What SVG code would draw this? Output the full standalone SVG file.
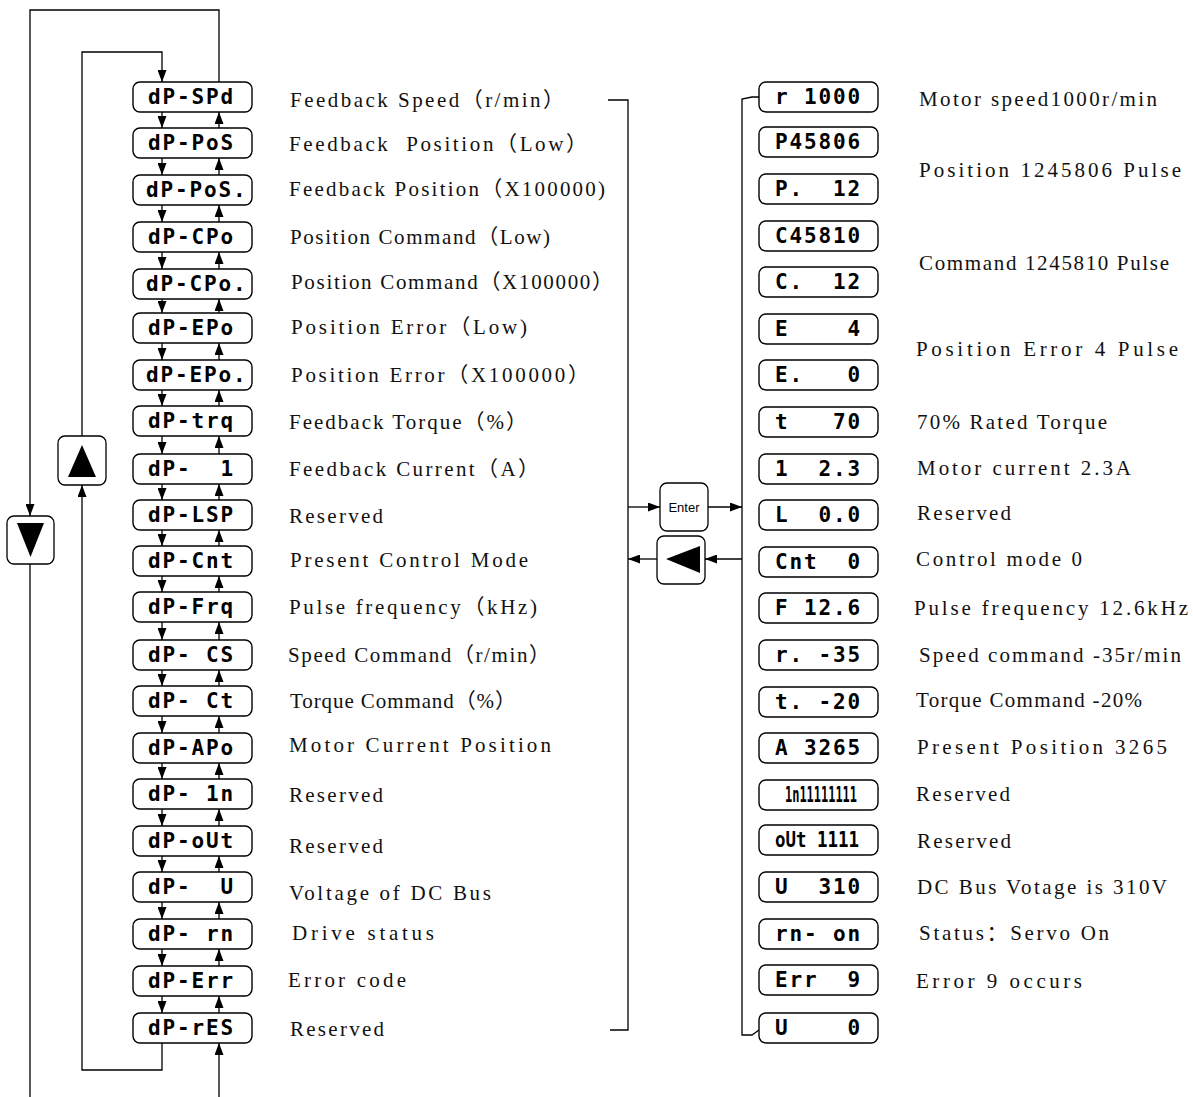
<svg xmlns="http://www.w3.org/2000/svg" width="1193" height="1097" viewBox="0 0 1193 1097" xml:space="preserve">
<style>
.box{fill:#fff;stroke:#000;stroke-width:1.4}
.btn{fill:#fff;stroke:#000;stroke-width:1.3}
.tri{fill:#000}
.seg{font-family:"DejaVu Sans Mono",monospace;font-weight:bold;font-size:21px;letter-spacing:1.86px;white-space:pre;fill:#000}
.segn{font-family:"DejaVu Sans Mono",monospace;font-weight:bold;font-size:21px;letter-spacing:0;white-space:pre;fill:#000}
.desc{font-family:"Liberation Serif","Noto Sans CJK SC",serif;font-size:21px;white-space:pre;fill:#111}
.ent{font-family:"Liberation Sans",Arial,sans-serif;font-size:13px;fill:#000}
.ln{fill:none;stroke:#000;stroke-width:1.3}
</style>
<defs>
<marker id="ah" viewBox="0 0 12 9" markerWidth="12" markerHeight="9" refX="12" refY="4.5" orient="auto" markerUnits="userSpaceOnUse"><path d="M0,0 L12,4.5 L0,9 z" fill="#000"/></marker>
</defs>

<g id="connectors">
<path class="ln" d="M219,82 V10 H30 V516" marker-end="url(#ah)"/>
<path class="ln" d="M30,564 V1097"/>
<path class="ln" d="M82,436 V52 H162 V82" marker-end="url(#ah)"/>
<path class="ln" d="M162,1043 V1070 H82 V485" marker-end="url(#ah)"/>
<path class="ln" d="M219,1097 V1043" marker-end="url(#ah)"/>
<g marker-end="url(#ah)">
<path class="ln" d="M162,112 V128"/><path class="ln" d="M219,128 V112"/>
<path class="ln" d="M162,158 V175"/><path class="ln" d="M219,175 V158"/>
<path class="ln" d="M162,205 V222"/><path class="ln" d="M219,222 V205"/>
<path class="ln" d="M162,252 V269"/><path class="ln" d="M219,269 V252"/>
<path class="ln" d="M162,299 V313"/><path class="ln" d="M219,313 V299"/>
<path class="ln" d="M162,343 V360"/><path class="ln" d="M219,360 V343"/>
<path class="ln" d="M162,390 V406"/><path class="ln" d="M219,406 V390"/>
<path class="ln" d="M162,436 V454"/><path class="ln" d="M219,454 V436"/>
<path class="ln" d="M162,484 V500"/><path class="ln" d="M219,500 V484"/>
<path class="ln" d="M162,530 V546"/><path class="ln" d="M219,546 V530"/>
<path class="ln" d="M162,576 V592"/><path class="ln" d="M219,592 V576"/>
<path class="ln" d="M162,622 V640"/><path class="ln" d="M219,640 V622"/>
<path class="ln" d="M162,670 V686"/><path class="ln" d="M219,686 V670"/>
<path class="ln" d="M162,716 V733"/><path class="ln" d="M219,733 V716"/>
<path class="ln" d="M162,763 V779"/><path class="ln" d="M219,779 V763"/>
<path class="ln" d="M162,809 V826"/><path class="ln" d="M219,826 V809"/>
<path class="ln" d="M162,856 V872"/><path class="ln" d="M219,872 V856"/>
<path class="ln" d="M162,902 V919"/><path class="ln" d="M219,919 V902"/>
<path class="ln" d="M162,949 V966"/><path class="ln" d="M219,966 V949"/>
<path class="ln" d="M162,996 V1013"/><path class="ln" d="M219,1013 V996"/>
</g>
<path class="ln" d="M608,100 H628 V1030 H610"/>
<path class="ln" d="M759,97 H752 L742,99 V1035 H752 L759,1030"/>
<path class="ln" d="M628,507 H660" marker-end="url(#ah)"/>
<path class="ln" d="M708,507 H742" marker-end="url(#ah)"/>
<path class="ln" d="M742,559 H705" marker-end="url(#ah)"/>
<path class="ln" d="M657,559 H628" marker-end="url(#ah)"/>
</g>

<g id="btn-down"><rect class="btn" x="7" y="516" width="47" height="48" rx="7"/><polygon class="tri" points="17,523 44,523 30.5,557"/></g>
<g id="btn-up"><rect class="btn" x="58" y="436" width="48" height="49" rx="7"/><polygon class="tri" points="82,445 96,477 68,477"/></g>
<g id="btn-enter"><rect class="btn" x="660" y="483" width="48" height="48" rx="7"/><text class="ent" x="684" y="512" text-anchor="middle">Enter</text></g>
<g id="btn-left"><rect class="btn" x="657" y="536" width="48" height="48" rx="7"/><polygon class="tri" points="666,559 700,546 700,573"/></g>

<g id="left-nodes">
<g id="n-spd"><rect class="box" x="133" y="82" width="119" height="30" rx="7"/><text class="seg" x="148" y="104">dP-SPd</text></g>
<g id="n-pos"><rect class="box" x="133" y="128" width="119" height="30" rx="7"/><text class="seg" x="148" y="150">dP-PoS</text></g>
<g id="n-posh"><rect class="box" x="133" y="175" width="119" height="30" rx="7"/><text class="seg" x="146" y="197">dP-PoS.</text></g>
<g id="n-cpo"><rect class="box" x="133" y="222" width="119" height="30" rx="7"/><text class="seg" x="148" y="244">dP-CPo</text></g>
<g id="n-cpoh"><rect class="box" x="133" y="269" width="119" height="30" rx="7"/><text class="seg" x="146" y="291">dP-CPo.</text></g>
<g id="n-epo"><rect class="box" x="133" y="313" width="119" height="30" rx="7"/><text class="seg" x="148" y="335">dP-EPo</text></g>
<g id="n-epoh"><rect class="box" x="133" y="360" width="119" height="30" rx="7"/><text class="seg" x="146" y="382">dP-EPo.</text></g>
<g id="n-trq"><rect class="box" x="133" y="406" width="119" height="30" rx="7"/><text class="seg" x="148" y="428">dP-trq</text></g>
<g id="n-i"><rect class="box" x="133" y="454" width="119" height="30" rx="7"/><text class="seg" x="148" y="476">dP-  1</text></g>
<g id="n-lsp"><rect class="box" x="133" y="500" width="119" height="30" rx="7"/><text class="seg" x="148" y="522">dP-LSP</text></g>
<g id="n-cnt"><rect class="box" x="133" y="546" width="119" height="30" rx="7"/><text class="seg" x="148" y="568">dP-Cnt</text></g>
<g id="n-frq"><rect class="box" x="133" y="592" width="119" height="30" rx="7"/><text class="seg" x="148" y="614">dP-Frq</text></g>
<g id="n-cs"><rect class="box" x="133" y="640" width="119" height="30" rx="7"/><text class="seg" x="148" y="662">dP- CS</text></g>
<g id="n-ct"><rect class="box" x="133" y="686" width="119" height="30" rx="7"/><text class="seg" x="148" y="708">dP- Ct</text></g>
<g id="n-apo"><rect class="box" x="133" y="733" width="119" height="30" rx="7"/><text class="seg" x="148" y="755">dP-APo</text></g>
<g id="n-in"><rect class="box" x="133" y="779" width="119" height="30" rx="7"/><text class="seg" x="148" y="801">dP- 1n</text></g>
<g id="n-out"><rect class="box" x="133" y="826" width="119" height="30" rx="7"/><text class="seg" x="148" y="848">dP-oUt</text></g>
<g id="n-u"><rect class="box" x="133" y="872" width="119" height="30" rx="7"/><text class="seg" x="148" y="894">dP-  U</text></g>
<g id="n-rn"><rect class="box" x="133" y="919" width="119" height="30" rx="7"/><text class="seg" x="148" y="941">dP- rn</text></g>
<g id="n-err"><rect class="box" x="133" y="966" width="119" height="30" rx="7"/><text class="seg" x="148" y="988">dP-Err</text></g>
<g id="n-res"><rect class="box" x="133" y="1013" width="119" height="30" rx="7"/><text class="seg" x="148" y="1035">dP-rES</text></g>
</g>

<g id="left-desc">
<text class="desc" x="290" y="107" textLength="274" lengthAdjust="spacing">Feedback Speed（r/min）</text>
<text class="desc" x="289" y="151" textLength="298" lengthAdjust="spacing">Feedback  Position（Low）</text>
<text class="desc" x="289" y="196" textLength="316" lengthAdjust="spacing">Feedback Position（X100000)</text>
<text class="desc" x="290" y="244" textLength="260" lengthAdjust="spacing">Position Command（Low)</text>
<text class="desc" x="291" y="289" textLength="322" lengthAdjust="spacing">Position Command（X100000）</text>
<text class="desc" x="291" y="334" textLength="236" lengthAdjust="spacing">Position Error（Low)</text>
<text class="desc" x="291" y="382" textLength="298" lengthAdjust="spacing">Position Error（X100000）</text>
<text class="desc" x="289" y="429" textLength="238" lengthAdjust="spacing">Feedback Torque（%）</text>
<text class="desc" x="289" y="476" textLength="250" lengthAdjust="spacing">Feedback Current（A）</text>
<text class="desc" x="289" y="523" textLength="94" lengthAdjust="spacing">Reserved</text>
<text class="desc" x="290" y="567" textLength="238" lengthAdjust="spacing">Present Control Mode</text>
<text class="desc" x="289" y="614" textLength="248" lengthAdjust="spacing">Pulse frequency（kHz)</text>
<text class="desc" x="288" y="662" textLength="262" lengthAdjust="spacing">Speed Command（r/min）</text>
<text class="desc" x="290" y="708" textLength="226" lengthAdjust="spacing">Torque Command（%）</text>
<text class="desc" x="289" y="752" textLength="262" lengthAdjust="spacing">Motor Current Position</text>
<text class="desc" x="289" y="802" textLength="94" lengthAdjust="spacing">Reserved</text>
<text class="desc" x="289" y="853" textLength="94" lengthAdjust="spacing">Reserved</text>
<text class="desc" x="289" y="900" textLength="202" lengthAdjust="spacing">Voltage of DC Bus</text>
<text class="desc" x="292" y="940" textLength="142" lengthAdjust="spacing">Drive status</text>
<text class="desc" x="288" y="987" textLength="118" lengthAdjust="spacing">Error code</text>
<text class="desc" x="290" y="1036" textLength="94" lengthAdjust="spacing">Reserved</text>
</g>

<g id="right-nodes">
<g id="r-spd"><rect class="box" x="759" y="82" width="119" height="30" rx="7"/><text class="seg" x="775" y="104">r 1000</text></g>
<g id="r-pos"><rect class="box" x="759" y="127" width="119" height="30" rx="7"/><text class="seg" x="775" y="149">P45806</text></g>
<g id="r-posh"><rect class="box" x="759" y="174" width="119" height="30" rx="7"/><text class="seg" x="775" y="196">P.  12</text></g>
<g id="r-cpo"><rect class="box" x="759" y="221" width="119" height="30" rx="7"/><text class="seg" x="775" y="243">C45810</text></g>
<g id="r-cpoh"><rect class="box" x="759" y="267" width="119" height="30" rx="7"/><text class="seg" x="775" y="289">C.  12</text></g>
<g id="r-epo"><rect class="box" x="759" y="314" width="119" height="30" rx="7"/><text class="seg" x="775" y="336">E    4</text></g>
<g id="r-epoh"><rect class="box" x="759" y="360" width="119" height="30" rx="7"/><text class="seg" x="775" y="382">E.   0</text></g>
<g id="r-trq"><rect class="box" x="759" y="407" width="119" height="30" rx="7"/><text class="seg" x="775" y="429">t   70</text></g>
<g id="r-i"><rect class="box" x="759" y="454" width="119" height="30" rx="7"/><text class="seg" x="775" y="476">1  2.3</text></g>
<g id="r-lsp"><rect class="box" x="759" y="500" width="119" height="30" rx="7"/><text class="seg" x="775" y="522">L  0.0</text></g>
<g id="r-cnt"><rect class="box" x="759" y="547" width="119" height="30" rx="7"/><text class="seg" x="775" y="569">Cnt  0</text></g>
<g id="r-frq"><rect class="box" x="759" y="593" width="119" height="30" rx="7"/><text class="seg" x="775" y="615">F 12.6</text></g>
<g id="r-cs"><rect class="box" x="759" y="640" width="119" height="30" rx="7"/><text class="seg" x="775" y="662">r. -35</text></g>
<g id="r-ct"><rect class="box" x="759" y="687" width="119" height="30" rx="7"/><text class="seg" x="775" y="709">t. -20</text></g>
<g id="r-apo"><rect class="box" x="759" y="733" width="119" height="30" rx="7"/><text class="seg" x="775" y="755">A 3265</text></g>
<g id="r-in"><rect class="box" x="759" y="780" width="119" height="30" rx="7"/><text class="segn" x="785" y="802" textLength="72" lengthAdjust="spacingAndGlyphs">1n11111111</text></g>
<g id="r-out"><rect class="box" x="759" y="825" width="119" height="30" rx="7"/><text class="segn" x="775" y="847" textLength="84" lengthAdjust="spacingAndGlyphs">oUt 1111</text></g>
<g id="r-u"><rect class="box" x="759" y="872" width="119" height="30" rx="7"/><text class="seg" x="775" y="894">U  310</text></g>
<g id="r-rn"><rect class="box" x="759" y="919" width="119" height="30" rx="7"/><text class="seg" x="775" y="941">rn- on</text></g>
<g id="r-err"><rect class="box" x="759" y="965" width="119" height="30" rx="7"/><text class="seg" x="775" y="987">Err  9</text></g>
<g id="r-res"><rect class="box" x="759" y="1013" width="119" height="30" rx="7"/><text class="seg" x="775" y="1035">U    0</text></g>
</g>

<g id="right-desc">
<text class="desc" x="919" y="106" textLength="238" lengthAdjust="spacing">Motor speed1000r/min</text>
<text class="desc" x="919" y="177" textLength="262" lengthAdjust="spacing">Position 1245806 Pulse</text>
<text class="desc" x="919" y="270" textLength="250" lengthAdjust="spacing">Command 1245810 Pulse</text>
<text class="desc" x="916" y="356" textLength="262" lengthAdjust="spacing">Position Error 4 Pulse</text>
<text class="desc" x="917" y="429" textLength="190" lengthAdjust="spacing">70% Rated Torque</text>
<text class="desc" x="917" y="475" textLength="214" lengthAdjust="spacing">Motor current 2.3A</text>
<text class="desc" x="917" y="520" textLength="94" lengthAdjust="spacing">Reserved</text>
<text class="desc" x="916" y="566" textLength="166" lengthAdjust="spacing">Control mode 0</text>
<text class="desc" x="914" y="615" textLength="274" lengthAdjust="spacing">Pulse frequency 12.6kHz</text>
<text class="desc" x="919" y="662" textLength="262" lengthAdjust="spacing">Speed command -35r/min</text>
<text class="desc" x="916" y="707" textLength="226" lengthAdjust="spacing">Torque Command -20%</text>
<text class="desc" x="917" y="754" textLength="250" lengthAdjust="spacing">Present Position 3265</text>
<text class="desc" x="916" y="801" textLength="94" lengthAdjust="spacing">Reserved</text>
<text class="desc" x="917" y="848" textLength="94" lengthAdjust="spacing">Reserved</text>
<text class="desc" x="917" y="894" textLength="250" lengthAdjust="spacing">DC Bus Votage is 310V</text>
<text class="desc" x="919" y="940" textLength="190" lengthAdjust="spacing">Status：Servo On</text>
<text class="desc" x="916" y="988" textLength="166" lengthAdjust="spacing">Error 9 occurs</text>
</g>
</svg>
